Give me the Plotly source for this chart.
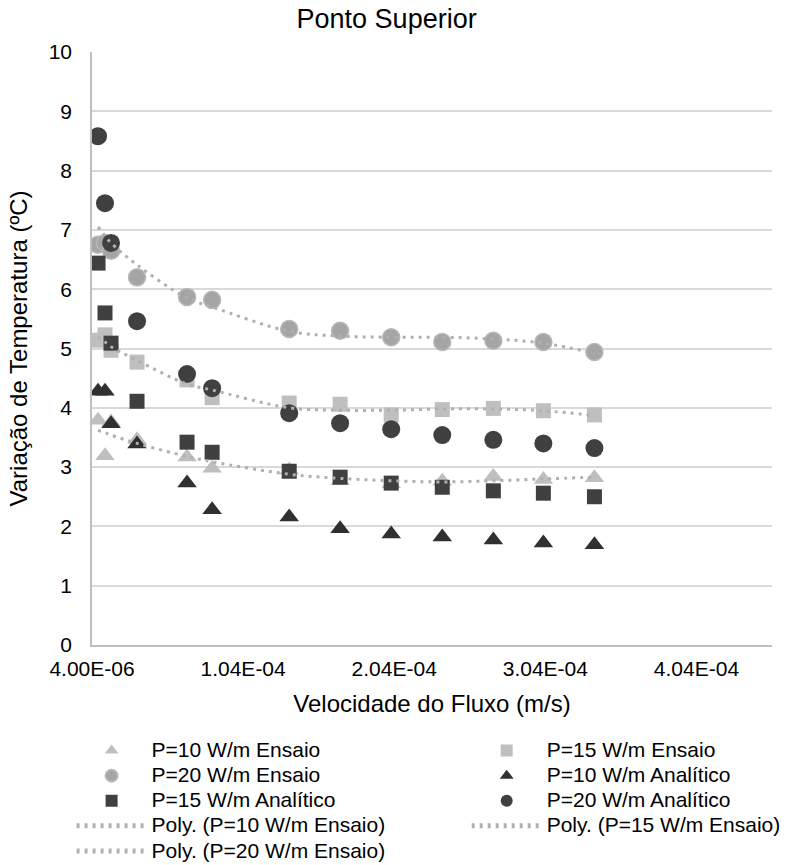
import plotly.graph_objects as go

# Flow velocity (m/s) shared by every series
velocidade = [8.0e-6, 1.26e-5, 1.66e-5, 3.38e-5, 6.69e-5, 8.35e-5, 1.345e-4,
              1.682e-4, 2.02e-4, 2.358e-4, 2.696e-4, 3.027e-4, 3.365e-4]

# Temperature variation (ºC)
p10_ensaio = [3.79, 3.19, 3.76, 3.46, 3.17, 2.98, 2.95, 2.77, 2.72, 2.76, 2.84, 2.79, 2.82]
p15_ensaio = [5.14, 5.23, 4.97, 4.77, 4.47, 4.17, 4.08, 4.06, 3.88, 3.97, 3.99, 3.95, 3.88]
p20_ensaio = [6.75, 6.78, 6.65, 6.20, 5.87, 5.82, 5.33, 5.30, 5.19, 5.11, 5.13, 5.11, 4.94]
p10_analitico = [4.28, 4.28, 3.73, 3.39, 2.73, 2.28, 2.16, 1.96, 1.87, 1.82, 1.77, 1.72, 1.69]
p15_analitico = [6.44, 5.60, 5.09, 4.11, 3.42, 3.25, 2.93, 2.83, 2.73, 2.66, 2.60, 2.56, 2.50]
p20_analitico = [8.58, 7.45, 6.78, 5.46, 4.57, 4.33, 3.91, 3.74, 3.64, 3.54, 3.46, 3.40, 3.32]

# Polynomial trendline values of the Ensaio series at each velocity
poly_p10 = [3.62, 3.58, 3.54, 3.40, 3.18, 3.09, 2.88, 2.81, 2.77, 2.75, 2.77, 2.80, 2.83]
poly_p15 = [5.20, 5.11, 5.03, 4.80, 4.40, 4.30, 4.00, 3.96, 3.96, 3.98, 3.98, 3.95, 3.87]
poly_p20 = [7.05, 6.90, 6.78, 6.41, 5.85, 5.70, 5.29, 5.21, 5.19, 5.19, 5.16, 5.09, 4.92]

x_tick_labels = ["4.00E-06", "1.04E-04", "2.04E-04", "3.04E-04", "4.04E-04"]
x_tick_values = [4.0e-6, 1.04e-4, 2.04e-4, 3.04e-4, 4.04e-4]

FONT = "Liberation Sans, Arial, sans-serif"


def legend_label(text):
    # legend text at full size while the row pitch follows the smaller legend font
    return f'<span style="font-size:21px">{text}</span>'


fig = go.Figure()

# name, values, symbol, size, colour, legend column
markers = [
    ("P=10 W/m Ensaio", p10_ensaio, "triangle-up", 17, "#BFBFBF", "legend"),
    ("P=15 W/m Ensaio", p15_ensaio, "square", 15, "#BFBFBF", "legend2"),
    ("P=20 W/m Ensaio", p20_ensaio, "circle", 17, "#A5A5A5", "legend"),
    ("P=10 W/m Analítico", p10_analitico, "triangle-up", 17, "#303030", "legend2"),
    ("P=15 W/m Analítico", p15_analitico, "square", 15, "#404040", "legend"),
    ("P=20 W/m Analítico", p20_analitico, "circle", 18, "#404040", "legend2"),
]
for name, ys, symbol, size, color, leg in markers:
    line = dict(width=1.5, color="#B8B8B8") if name == "P=20 W/m Ensaio" else dict(width=0)
    fig.add_trace(go.Scatter(
        x=velocidade, y=ys, mode="markers", name=legend_label(name), legend=leg,
        hovertemplate=f"{name}<br>%{{x:.3e}}, %{{y}}<extra></extra>",
        marker=dict(symbol=symbol, size=size, color=color, line=line),
    ))

trends = [
    ("Poly. (P=10 W/m Ensaio)", poly_p10, "legend"),
    ("Poly. (P=15 W/m Ensaio)", poly_p15, "legend2"),
    ("Poly. (P=20 W/m Ensaio)", poly_p20, "legend"),
]
for name, ys, leg in trends:
    fig.add_trace(go.Scatter(
        x=velocidade, y=ys, mode="lines", name=legend_label(name), legend=leg,
        hovertemplate=f"{name}<br>%{{x:.3e}}, %{{y}}<extra></extra>",
        line=dict(color="#B0B0B0", width=3, dash="3px,5px", shape="spline", smoothing=1.0),
    ))

legend_style = dict(
    orientation="v", xanchor="left", yanchor="top", yref="container",
    y=1 - 733 / 865, itemwidth=70, itemsizing="constant",
    font=dict(size=17, color="#000000"), traceorder="normal",
    bgcolor="rgba(0,0,0,0)",
)

fig.update_layout(
    width=789, height=865,
    margin=dict(l=92, r=17, t=52, b=220),
    paper_bgcolor="white", plot_bgcolor="white",
    font=dict(family=FONT, color="#000000", size=21),
    title=dict(text="Ponto Superior", font=dict(size=27, color="#000000"),
               x=0.49, xanchor="center", xref="container",
               y=1 - 19 / 865, yanchor="middle", yref="container"),
    showlegend=True,
    legend=dict(legend_style, x=-0.03),
    legend2=dict(legend_style, x=0.551),
)

fig.update_xaxes(
    range=[4.0e-6, 4.54e-4], tickmode="array",
    tickvals=x_tick_values, ticktext=x_tick_labels,
    showgrid=False, zeroline=False,
    showline=True, linecolor="#BFBFBF", linewidth=1.5,
    ticks="", ticklabelstandoff=4,
    tickfont=dict(size=21),
    title=dict(text="Velocidade do Fluxo (m/s)", font=dict(size=24), standoff=16),
)
fig.update_yaxes(
    range=[0, 10], dtick=1, tick0=0,
    showgrid=True, gridcolor="#D9D9D9", gridwidth=1.5,
    zeroline=False, showline=True, linecolor="#BFBFBF", linewidth=1.5,
    ticks="", ticklabelstandoff=14,
    tickfont=dict(size=21),
    title=dict(text="Variação de Temperatura (ºC)", font=dict(size=24), standoff=14),
)

fig.write_html("out.html")
